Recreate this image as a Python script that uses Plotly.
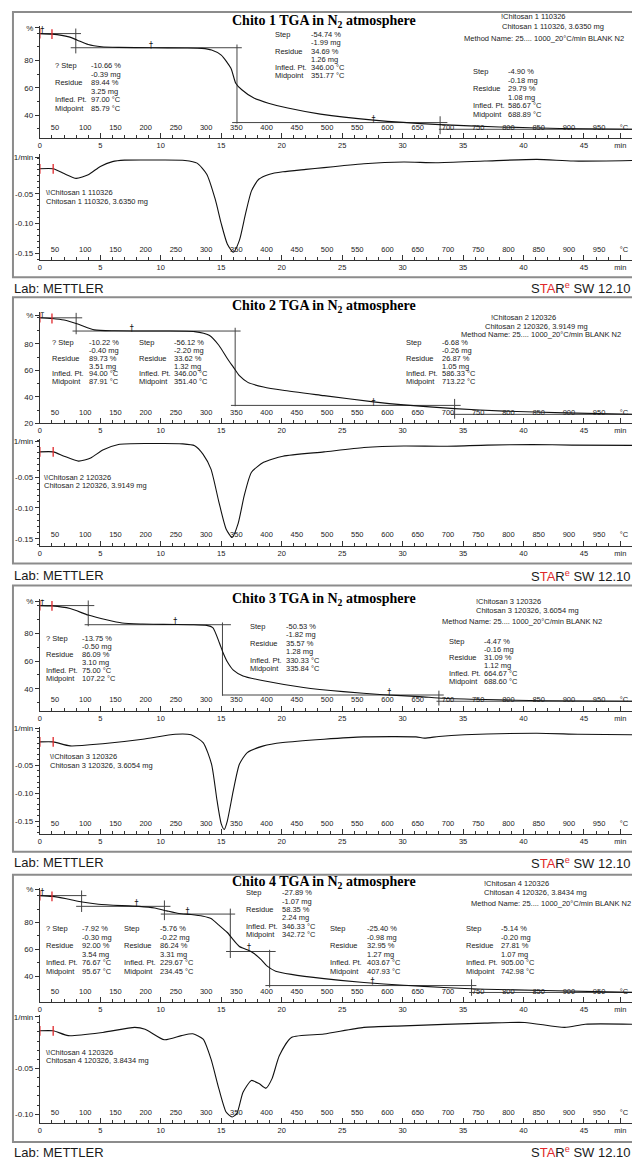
import numpy as np
import plotly.graph_objects as go

W, H = 632, 1165
T_END = 48.97                      # minutes at the right edge of every ruler
MIN_TICKS = list(range(0, 50, 5))
TEMP_TICKS = list(range(50, 1000, 50))

ROW_LABELS_FIRST = ["? Step", "", "Residue", "", "Infled. Pt.", "Midpoint"]
ROW_LABELS = ["Step", "", "Residue", "", "Infled. Pt.", "Midpoint"]
METHOD = "Method Name: 25.... 1000_20°C/min BLANK N2"

# ---------------- Chito 1 ----------------
C1_TITLE = "Chito 1 TGA in N<sub>2</sub> atmosphere"
C1_HEADER = ["!Chitosan 1 110326", "Chitosan 1 110326, 3.6350 mg", METHOD]
C1_NOTE = ["\\!Chitosan 1 110326", "Chitosan 1 110326, 3.6350 mg"]
C1_T_TGA = [0, 1.0, 2.4, 3.1, 4.0, 5.1, 6.5, 9.2, 12.0, 13.4, 14.2, 15.0, 15.8, 16.2, 16.7,
            17.7, 18.9, 20.5, 23.2, 27.6, 33.1, 38.0, 43.0, 48.97]
C1_TGA = [99.8, 99.4, 97.4, 95.0, 91.8, 90.2, 89.7, 89.44, 89.3, 89.0, 87.8, 84.1, 74.4, 63.5,
          58.7, 52.6, 48.9, 45.3, 40.9, 36.5, 33.2, 31.5, 30.4, 29.8]
C1_T_DTG = [0, 1.1, 2.0, 3.0, 4.0, 5.0, 6.0, 7.0, 10.0, 12.0, 13.0, 13.8, 14.5, 15.0, 15.5, 16.0,
            16.5, 17.0, 17.5, 18.1, 19.0, 20.1, 22.0, 23.5, 25.0, 26.8, 30.1, 32.8, 36.8, 41.1,
            44.1, 48.97]
C1_DTG = [-0.008, -0.008, -0.016, -0.024, -0.018, -0.004, 0.004, 0.0065, 0.0067, 0.006, 0.0015,
          -0.017, -0.059, -0.100, -0.134, -0.148, -0.128, -0.084, -0.045, -0.0255, -0.017, -0.013,
          -0.009, -0.006, -0.003, 0.0005, 0.0033, 0.0022, 0.005, 0.0078, 0.005, 0.006]
C1_STEPS = [["-10.66 %", "-0.39 mg", "89.44 %", "3.25 mg", "97.00 °C", "85.79 °C"],
            ["-54.74 %", "-1.99 mg", "34.69 %", "1.26 mg", "346.00 °C", "351.77 °C"],
            ["-4.90 %", "-0.18 mg", "29.79 %", "1.08 mg", "586.67 °C", "688.89 °C"]]
C1_LEVELS = [(99.8, 0.0, 3.4), (89.44, 2.55, 16.7), (34.69, 15.9, 33.7), (29.79, 33.0, 48.97)]
C1_CUTS = [(2.97, 85.3, 103.5), (16.3, 34.0, 91.8), (33.1, 26.2, 39.3)]
C1_LIMITS = [(0.2, 101.8), (9.2, 91.0), (27.6, 36.6)]
C1_TGA_TICKS = [40, 60, 80]
C1_DTG_TICKS = [-0.15, -0.10, -0.05]

# ---------------- Chito 2 ----------------
C2_TITLE = "Chito 2 TGA in N<sub>2</sub> atmosphere"
C2_HEADER = ["!Chitosan 2 120326", "Chitosan 2 120326, 3.9149 mg", METHOD]
C2_NOTE = ["\\!Chitosan 2 120326", "Chitosan 2 120326, 3.9149 mg"]
C2_T_TGA = [0, 1.0, 2.0, 3.2, 4.5, 6.2, 10.2, 12.8, 14.0, 14.8, 15.5, 16.0, 16.5, 17.2, 18.5,
            20.1, 23.5, 27.6, 30.1, 34.3, 38.4, 43.4, 48.97]
C2_TGA = [99.8, 99.2, 98.0, 94.8, 90.6, 89.9, 89.73, 89.3, 86.5, 79.0, 69.0, 62.5, 56.0, 51.0,
          47.5, 45.0, 41.0, 36.3, 34.0, 31.2, 29.3, 28.0, 26.9]
C2_T_DTG = [0, 1.1, 2.0, 3.2, 4.2, 5.2, 6.5, 9.0, 11.8, 12.8, 13.5, 14.15, 14.8, 15.4, 15.9,
            16.4, 16.9, 17.5, 18.5, 20.1, 23.5, 26.8, 30.1, 33.4, 37.0, 40.7, 44.0, 48.97]
C2_DTG = [-0.009, -0.009, -0.016, -0.024, -0.019, -0.006, 0.003, 0.0045, 0.004, 0.001, -0.013,
          -0.037, -0.090, -0.134, -0.148, -0.125, -0.080, -0.042, -0.026, -0.016, -0.009, -0.002,
          0.0005, 0.0, 0.002, 0.003, 0.002, 0.0016]
C2_STEPS = [["-10.22 %", "-0.40 mg", "89.73 %", "3.51 mg", "94.00 °C", "87.91 °C"],
            ["-56.12 %", "-2.20 mg", "33.62 %", "1.32 mg", "346.00 °C", "351.40 °C"],
            ["-6.68 %", "-0.26 mg", "26.87 %", "1.05 mg", "586.33 °C", "713.22 °C"]]
C2_LEVELS = [(99.7, 0.0, 3.5), (89.73, 2.7, 16.6), (33.62, 15.8, 34.8), (26.87, 34.0, 48.97)]
C2_CUTS = [(3.0, 87.3, 103.5), (16.15, 33.0, 92.2), (34.3, 23.5, 38.5)]
C2_LIMITS = [(0.2, 101.8), (7.6, 91.2), (27.6, 35.6)]
C2_TGA_TICKS = [20, 40, 60, 80]
C2_DTG_TICKS = [-0.15, -0.10, -0.05]

# ---------------- Chito 3 ----------------
C3_TITLE = "Chito 3 TGA in N<sub>2</sub> atmosphere"
C3_HEADER = ["!Chitosan 3 120326", "Chitosan 3 120326, 3.6054 mg", METHOD]
C3_NOTE = ["\\!Chitosan 3 120326", "Chitosan 3 120326, 3.6054 mg"]
C3_T_TGA = [0, 1.0, 2.5, 4.0, 5.5, 6.8, 8.5, 10.2, 12.5, 13.8, 14.3, 14.85, 15.15, 15.5, 16.0,
            16.8, 18.5, 21.8, 25.1, 28.4, 31.4, 33.4, 36.8, 41.7, 48.97]
C3_TGA = [99.84, 99.6, 97.7, 93.0, 89.6, 87.3, 86.6, 86.3, 86.09, 85.6, 84.0, 73.0, 66.0, 59.5,
          53.5, 49.3, 45.8, 41.0, 38.0, 35.8, 34.4, 33.2, 32.3, 31.5, 31.1]
C3_T_DTG = [0, 1.1, 2.5, 5.2, 8.5, 11.2, 12.5, 13.5, 14.2, 14.65, 15.0, 15.25, 15.5, 16.0, 16.5,
            17.15, 18.5, 20.1, 23.5, 26.8, 31.1, 31.8, 33.0, 35.1, 41.1, 44.5, 48.97]
C3_DTG = [-0.0077, -0.0077, -0.015, -0.011, -0.003, 0.006, 0.005, -0.009, -0.048, -0.113, -0.155,
          -0.165, -0.150, -0.095, -0.048, -0.027, -0.015, -0.009, -0.003, 0.0012, 0.0012, -0.001,
          0.002, 0.005, 0.0077, 0.006, 0.005]
C3_STEPS = [["-13.75 %", "-0.50 mg", "86.09 %", "3.10 mg", "75.00 °C", "107.22 °C"],
            ["-50.53 %", "-1.82 mg", "35.57 %", "1.28 mg", "330.33 °C", "335.84 °C"],
            ["-4.47 %", "-0.16 mg", "31.09 %", "1.12 mg", "664.67 °C", "688.60 °C"]]
C3_LEVELS = [(99.84, 0.0, 4.5), (86.09, 3.7, 15.8), (35.57, 15.1, 33.4), (31.09, 32.8, 48.97)]
C3_CUTS = [(4.0, 85.0, 103.5), (15.1, 35.0, 87.7), (33.0, 28.0, 38.7)]
C3_LIMITS = [(0.2, 101.8), (11.2, 87.9), (28.9, 37.3)]
C3_TGA_TICKS = [40, 60, 80]
C3_DTG_TICKS = [-0.15, -0.10, -0.05]

# ---------------- Chito 4 ----------------
C4_TITLE = "Chito 4 TGA in N<sub>2</sub> atmosphere"
C4_HEADER = ["!Chitosan 4 120326", "Chitosan 4 120326, 3.8434 mg", METHOD]
C4_NOTE = ["\\!Chitosan 4 120326", "Chitosan 4 120326, 3.8434 mg"]
C4_T_TGA = [0, 1.0, 2.2, 3.5, 4.85, 6.8, 8.2, 9.5, 10.5, 11.5, 12.5, 13.5, 14.15, 14.8, 15.5,
            16.0, 16.5, 17.15, 17.65, 18.3, 18.8, 19.5, 20.8, 23.5, 26.8, 30.1, 33.4, 36.8, 41.7,
            48.97]
C4_TGA = [100.0, 99.4, 97.6, 95.2, 93.5, 92.5, 92.0, 90.8, 88.6, 86.6, 85.9, 84.6, 82.9, 78.0,
          72.5, 67.0, 62.1, 59.6, 57.2, 52.3, 47.4, 43.7, 41.3, 38.1, 35.2, 33.2, 31.5, 30.2, 29.3,
          27.9]
C4_T_DTG = [0, 1.1, 2.35, 5.2, 7.85, 8.7, 10.3, 11.7, 12.65, 13.5, 14.15, 14.8, 15.4, 15.9, 16.3,
            16.8, 17.5, 18.15, 18.7, 19.2, 19.8, 20.8, 23.5, 26.8, 30.1, 36.8, 40.1, 43.4, 45.1,
            48.97]
C4_DTG = [-0.0087, -0.0087, -0.014, -0.0105, -0.005, -0.007, -0.0185, -0.014, -0.012, -0.0178,
          -0.0395, -0.072, -0.0975, -0.103, -0.099, -0.076, -0.063, -0.0667, -0.0714, -0.061,
          -0.036, -0.016, -0.0123, -0.005, -0.0033, -0.0003, 0.0004, -0.005, -0.0015, -0.0015]
C4_STEPS = [["-7.92 %", "-0.30 mg", "92.00 %", "3.54 mg", "76.67 °C", "95.67 °C"],
            ["-5.76 %", "-0.22 mg", "86.24 %", "3.31 mg", "229.67 °C", "234.45 °C"],
            ["-27.89 %", "-1.07 mg", "58.35 %", "2.24 mg", "346.33 °C", "342.72 °C"],
            ["-25.40 %", "-0.98 mg", "32.95 %", "1.27 mg", "403.67 °C", "407.93 °C"],
            ["-5.14 %", "-0.20 mg", "27.81 %", "1.07 mg", "905.00 °C", "742.98 °C"]]
C4_LEVELS = [(100.0, 0.0, 3.85), (92.0, 3.0, 10.8), (86.24, 10.0, 16.15), (58.35, 15.4, 19.5),
             (32.95, 18.65, 36.1), (27.81, 35.5, 48.97)]
C4_CUTS = [(3.45, 87.8, 103.8), (10.3, 81.7, 96.4), (15.75, 53.5, 90.3), (19.0, 31.5, 59.6),
           (35.7, 25.3, 37.6)]
C4_LIMITS = [(0.2, 101.9), (8.0, 93.9), (12.2, 87.6), (17.3, 61.0), (27.5, 35.6)]
C4_TGA_TICKS = [40, 60, 80]
C4_DTG_TICKS = [-0.10, -0.05]

SAMPLES = [
    dict(title=C1_TITLE, header=C1_HEADER, note=C1_NOTE, t_tga=C1_T_TGA, tga=C1_TGA,
         t_dtg=C1_T_DTG, dtg=C1_DTG, steps=C1_STEPS, levels=C1_LEVELS, cuts=C1_CUTS,
         limits=C1_LIMITS, tga_ticks=C1_TGA_TICKS, dtg_ticks=C1_DTG_TICKS),
    dict(title=C2_TITLE, header=C2_HEADER, note=C2_NOTE, t_tga=C2_T_TGA, tga=C2_TGA,
         t_dtg=C2_T_DTG, dtg=C2_DTG, steps=C2_STEPS, levels=C2_LEVELS, cuts=C2_CUTS,
         limits=C2_LIMITS, tga_ticks=C2_TGA_TICKS, dtg_ticks=C2_DTG_TICKS),
    dict(title=C3_TITLE, header=C3_HEADER, note=C3_NOTE, t_tga=C3_T_TGA, tga=C3_TGA,
         t_dtg=C3_T_DTG, dtg=C3_DTG, steps=C3_STEPS, levels=C3_LEVELS, cuts=C3_CUTS,
         limits=C3_LIMITS, tga_ticks=C3_TGA_TICKS, dtg_ticks=C3_DTG_TICKS),
    dict(title=C4_TITLE, header=C4_HEADER, note=C4_NOTE, t_tga=C4_T_TGA, tga=C4_TGA,
         t_dtg=C4_T_DTG, dtg=C4_DTG, steps=C4_STEPS, levels=C4_LEVELS, cuts=C4_CUTS,
         limits=C4_LIMITS, tga_ticks=C4_TGA_TICKS, dtg_ticks=C4_DTG_TICKS),
]

# ---------------- page geometry (pixels) ----------------
X_LEFT = 38
GEOM = [
    dict(top=10, bottom=277, lab=288, title=20,
         tga=(24, 137, (59, 80), (114, 40)), pct=26,
         dtg=(153, 260, (193, -0.05), (253, -0.15)), unit=156,
         header=[(499, 15), (500, 25), (461, 37)], note=(42, 192, 201),
         blocks=[(51, 87, 64, 8.6), (272, 308, 33, 8.2), (470, 506, 70, 8.6)]),
    dict(top=297, bottom=565, lab=577, title=306,
         tga=(312, 424, (344, 80), (424, 20)), pct=315,
         dtg=(440, 547, (478, -0.05), (540, -0.15)), unit=442,
         header=[(489, 317), (483, 326), (458, 335)], note=(40, 478, 486),
         blocks=[(48, 85, 343, 7.8), (135, 171, 343, 7.8), (403, 439, 343, 7.8)]),
    dict(top=587, bottom=855, lab=866, title=601,
         tga=(601, 713, (635, 80), (691, 40)), pct=603,
         dtg=(729, 837, (768, -0.05), (824, -0.15)), unit=731,
         header=[(473, 603), (473, 612), (439, 623)], note=(46, 759, 768),
         blocks=[(42, 78, 640, 8.2), (247, 283, 628, 8.5), (446, 482, 643, 8.2)]),
    dict(top=878, bottom=1147, lab=1157, title=886,
         tga=(891, 1006, (926, 80), (980, 40)), pct=893,
         dtg=(1019, 1128, (1073, -0.05), (1119, -0.10)), unit=1021,
         header=[(482, 887), (482, 896), (468, 907)], note=(42, 1057, 1065),
         blocks=[(42, 78, 932, 8.7), (120, 156, 932, 8.7), (243, 279, 896, 8.5),
                 (327, 364, 932, 8.7), (463, 499, 932, 8.7)]),
]
TEMP_ROW_OFFSET = 17     # temperature labels sit this many px above each ruler

INK = "#222222"
AXIS = "#333333"
RED = "#e0282c"
SANS = "Liberation Sans, Arial, sans-serif"
SERIF = "Liberation Serif, Times New Roman, serif"


def yp(py):
    return 1 - py / H


def value_at(anchor_a, anchor_b, py):
    (p1, v1), (p2, v2) = anchor_a, anchor_b
    return v1 + (py - p1) * (v2 - v1) / (p2 - p1)


def ax_name(kind, n):
    return f"{kind}axis" if n == 1 else f"{kind}axis{n}"


def ax_ref(kind, n):
    return kind if n == 1 else f"{kind}{n}"


fig = go.Figure()
layout = {}
annotations = []
shapes = []


def text(px, py, s, size=7.5, anchor="left", family=SANS, color=INK):
    annotations.append(dict(x=px / W, y=yp(py), xref="paper", yref="paper", text=s,
                            showarrow=False, xanchor=anchor, yanchor="middle",
                            font=dict(size=size, family=family, color=color)))


tick_font = dict(size=7.5, family=SANS, color=INK)


def time_axes(n_min, n_temp, n_y, ruler_py):
    layout[ax_name("x", n_min)] = dict(
        domain=[X_LEFT / W, 1], range=[0, T_END], anchor=ax_ref("y", n_y),
        tickvals=MIN_TICKS + [48.0], ticktext=[str(v) for v in MIN_TICKS] + ["min"],
        ticks="inside", ticklen=5, tickwidth=1, tickcolor=AXIS,
        minor=dict(dtick=1, tick0=0, ticks="inside", ticklen=3, tickcolor=AXIS, tickwidth=1),
        showline=True, linecolor=AXIS, linewidth=1, showgrid=False, zeroline=False,
        tickfont=tick_font, fixedrange=True)
    # temperature scale: labels only, in a row just above the ruler
    layout[ax_name("x", n_temp)] = dict(
        overlaying=ax_ref("x", n_min), anchor="free", position=yp(ruler_py - TEMP_ROW_OFFSET),
        side="bottom", range=[25, 25 + 20 * T_END], tickvals=TEMP_TICKS + [991],
        ticktext=[str(v) for v in TEMP_TICKS] + ["°C"], ticks="",
        showline=False, showgrid=False, zeroline=False, tickfont=tick_font, fixedrange=True)
    fig.add_trace(go.Scatter(x=[25, 25 + 20 * T_END], y=[None, None], mode="markers",
                             marker=dict(opacity=0), xaxis=ax_ref("x", n_temp),
                             yaxis=ax_ref("y", n_y), hoverinfo="skip", showlegend=False))


def value_axis(n_y, n_x, top, bottom, a, b, ticks, fmt, unit_py, unit_text, minor_dtick):
    rng = [value_at(a, b, bottom), value_at(a, b, top)]
    unit_val = value_at(a, b, unit_py)
    layout[ax_name("y", n_y)] = dict(
        domain=[yp(bottom), yp(top)], range=rng, anchor=ax_ref("x", n_x),
        tickvals=list(ticks) + [unit_val], ticktext=[fmt(v) for v in ticks] + [unit_text],
        ticks="outside", ticklen=4, tickwidth=1, tickcolor=AXIS,
        minor=dict(dtick=minor_dtick, ticks="outside", ticklen=2, tickcolor=AXIS),
        showline=True, linecolor=AXIS, linewidth=1, showgrid=False, zeroline=False,
        tickfont=dict(size=8, family=SANS, color=INK), fixedrange=True)


for i, (s, g) in enumerate(zip(SAMPLES, GEOM)):
    xa, xb, xc, xd = 4 * i + 1, 4 * i + 2, 4 * i + 3, 4 * i + 4
    ya, yb = 2 * i + 1, 2 * i + 2

    # --- axes ---
    t_top, t_bot, t_a, t_b = g["tga"]
    d_top, d_bot, d_a, d_b = g["dtg"]
    time_axes(xa, xb, ya, t_bot)
    time_axes(xc, xd, yb, d_bot)
    value_axis(ya, xa, t_top, t_bot, t_a, t_b, s["tga_ticks"], lambda v: f"{v:d}",
               g["pct"], "%", 10)
    value_axis(yb, xc, d_top, d_bot, d_a, d_b, s["dtg_ticks"], lambda v: f"{v:.2f}",
               g["unit"], "1/min", 0.01)

    xr_a, yr_a = ax_ref("x", xa), ax_ref("y", ya)
    xr_c, yr_c = ax_ref("x", xc), ax_ref("y", yb)

    # --- step evaluation construction lines ---
    lx, ly = [], []
    for v, t0, t1 in s["levels"]:
        lx += [t0, t1, None]
        ly += [v, v, None]
    for t, v0, v1 in s["cuts"]:
        lx += [t, t, None]
        ly += [v0, v1, None]
    fig.add_trace(go.Scatter(x=lx, y=ly, mode="lines", line=dict(color="#444444", width=1),
                             xaxis=xr_a, yaxis=yr_a, hoverinfo="skip", showlegend=False))

    # --- TGA curve ---
    fig.add_trace(go.Scatter(x=s["t_tga"], y=s["tga"], mode="lines",
                             line=dict(color="#111111", width=1.1, shape="spline",
                                       smoothing=0.6),
                             xaxis=xr_a, yaxis=yr_a, hoverinfo="skip", showlegend=False))
    # evaluation limit markers
    fig.add_trace(go.Scatter(x=[p[0] for p in s["limits"]], y=[p[1] for p in s["limits"]],
                             mode="text", text=["†"] * len(s["limits"]),
                             textfont=dict(size=8, color="#111111", family="DejaVu Sans"),
                             xaxis=xr_a, yaxis=yr_a, hoverinfo="skip", showlegend=False))
    # red start markers on both curves
    red_t = [s["t_tga"][0], s["t_tga"][1]]
    fig.add_trace(go.Scatter(x=red_t, y=list(np.interp(red_t, s["t_tga"], s["tga"])),
                             mode="markers",
                             marker=dict(symbol="line-ns", size=7,
                                         line=dict(color=RED, width=1.3)),
                             xaxis=xr_a, yaxis=yr_a, hoverinfo="skip", showlegend=False))

    # --- DTG curve ---
    fig.add_trace(go.Scatter(x=s["t_dtg"], y=s["dtg"], mode="lines",
                             line=dict(color="#111111", width=1.1, shape="spline",
                                       smoothing=0.6),
                             xaxis=xr_c, yaxis=yr_c, hoverinfo="skip", showlegend=False))
    red_t = [s["t_dtg"][0], s["t_dtg"][1]]
    fig.add_trace(go.Scatter(x=red_t, y=list(np.interp(red_t, s["t_dtg"], s["dtg"])),
                             mode="markers",
                             marker=dict(symbol="line-ns", size=7,
                                         line=dict(color=RED, width=1.3)),
                             xaxis=xr_c, yaxis=yr_c, hoverinfo="skip", showlegend=False))

    # --- frame ---
    shapes.append(dict(type="rect", xref="paper", yref="paper", x0=11 / W, x1=1.05,
                       y0=yp(g["bottom"]), y1=yp(g["top"]),
                       line=dict(color="#8c8c8c", width=2), fillcolor="rgba(0,0,0,0)",
                       layer="above"))

    # --- texts ---
    text(323, g["title"], "<b>" + s["title"] + "</b>", size=14, anchor="center",
         family=SERIF, color="#000000")
    for (hx, hy), line in zip(g["header"], s["header"]):
        text(hx, hy, line)
    nx, ny1, ny2 = g["note"]
    text(nx, ny1, s["note"][0])
    text(nx, ny2, s["note"][1])
    for k, ((xl, xv, y0, dy), vals) in enumerate(zip(g["blocks"], s["steps"])):
        labels = ROW_LABELS_FIRST if k == 0 else ROW_LABELS
        for r, (lab, val) in enumerate(zip(labels, vals)):
            if lab:
                text(xl, y0 + r * dy, lab)
            text(xv, y0 + r * dy, val)

    text(10, g["lab"], "Lab: METTLER", size=13, color="#1a1a1a")
    text(632, g["lab"],
         f'S<span style="color:{RED}">TA</span>R<sup><span style="color:{RED}">e</span></sup> SW 12.10',
         size=13, anchor="right", color="#1a1a1a")

layout.update(dict(width=W, height=H, margin=dict(l=0, r=0, t=0, b=0),
                   paper_bgcolor="white", plot_bgcolor="white", showlegend=False,
                   annotations=annotations, shapes=shapes))
fig.update_layout(**layout)
fig.write_html("out.html")
